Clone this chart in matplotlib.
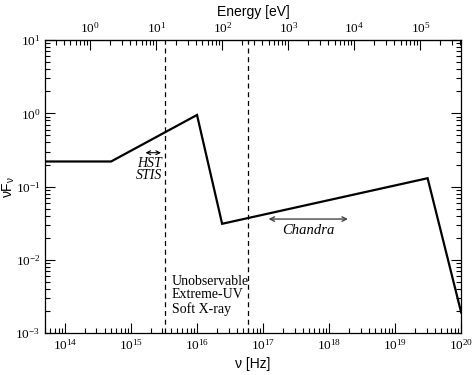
import numpy as np
import matplotlib
matplotlib.use("Agg")
import matplotlib.pyplot as plt
from matplotlib.ticker import LogLocator, NullFormatter

# SED model (nu [Hz], nu F_nu)
nu = [5e13, 5e14, 1e16, 2.4e16, 3.1e19, 1e20]
nufnu = [0.22, 0.22, 0.95, 0.031, 0.13, 0.0019]

# vertical boundaries of the unobservable band (13.6 eV and ~0.25 keV)
band_edges = [3.29e15, 6.0e16]

# instrument ranges
stis_range = [1.66e15, 2.85e15]
stis_y = 0.29
chandra_range = [1.21e17, 1.93e18]
chandra_y = 0.036

H_EV = 4.1357e-15  # Planck constant in eV s

plt.rcParams["font.family"] = ["Liberation Serif", "DejaVu Serif"]
plt.rcParams["mathtext.fontset"] = "custom"
plt.rcParams["mathtext.rm"] = "Liberation Serif"
plt.rcParams["mathtext.it"] = "Liberation Serif:italic"

fig = plt.figure(figsize=(4.74, 3.75), dpi=100)
ax = fig.add_axes([0.095, 0.112, 0.878, 0.781])

ax.plot(nu, nufnu, color="black", linewidth=1.6, solid_joinstyle="miter")
for x in band_edges:
    ax.axvline(x, color="black", linestyle=(0, (4, 3)), linewidth=0.9)

ax.set_xscale("log")
ax.set_yscale("log")
ax.set_xlim(5e13, 1e20)
ax.set_ylim(1e-3, 1e1)

# arrows and labels
ax.annotate("", xy=(stis_range[0], stis_y), xytext=(stis_range[1], stis_y),
            arrowprops=dict(arrowstyle="<->", color="black", lw=0.8,
                            shrinkA=0, shrinkB=0, mutation_scale=7))
ax.text(stis_range[1] * 1.05, stis_y * 0.88, "HST\nSTIS", style="italic",
        ha="right", va="top", fontsize=10, linespacing=0.95)
ax.annotate("", xy=(chandra_range[0], chandra_y), xytext=(chandra_range[1], chandra_y),
            arrowprops=dict(arrowstyle="<->", color="#444444", lw=1.0,
                            shrinkA=0, shrinkB=0, mutation_scale=8))
ax.text(np.sqrt(chandra_range[0] * chandra_range[1]), chandra_y * 0.86, "Chandra",
        style="italic", ha="center", va="top", fontsize=10.5)
ax.text(band_edges[0] * 1.25, 0.0062, "Unobservable\nExtreme-UV\nSoft X-ray",
        ha="left", va="top", fontsize=10, linespacing=1.05)

# ticks
for axis in (ax.xaxis, ax.yaxis):
    axis.set_major_locator(LogLocator(base=10, numticks=20))
    axis.set_minor_locator(LogLocator(base=10, subs=np.arange(2, 10), numticks=20))
    axis.set_minor_formatter(NullFormatter())
ax.tick_params(which="both", direction="in", top=False, right=True, labelsize=9.5)
ax.tick_params(which="major", length=7, width=0.8)
ax.tick_params(which="minor", length=3.5, width=0.8)
for s in ax.spines.values():
    s.set_linewidth(0.9)

secax = ax.secondary_xaxis("top", functions=(lambda x: x * H_EV, lambda e: e / H_EV))
secax.xaxis.set_major_locator(LogLocator(base=10, numticks=20))
secax.xaxis.set_minor_locator(LogLocator(base=10, subs=np.arange(2, 10), numticks=20))
secax.xaxis.set_minor_formatter(NullFormatter())
secax.tick_params(which="both", direction="in", labelsize=9.5)
secax.tick_params(which="major", length=7, width=0.8)
secax.tick_params(which="minor", length=3.5, width=0.8)
secax.set_xlabel("Energy [eV]", fontfamily="Liberation Sans", fontsize=10, labelpad=3)

ax.set_xlabel("ν [Hz]", fontfamily="Liberation Sans", fontsize=10, labelpad=3)
ax.set_ylabel(r"νF$_\mathregular{ν}$", fontfamily="Liberation Sans", fontsize=10)
ax.yaxis.set_label_coords(-0.068, 0.5)

fig.savefig("out.png", dpi=100)
